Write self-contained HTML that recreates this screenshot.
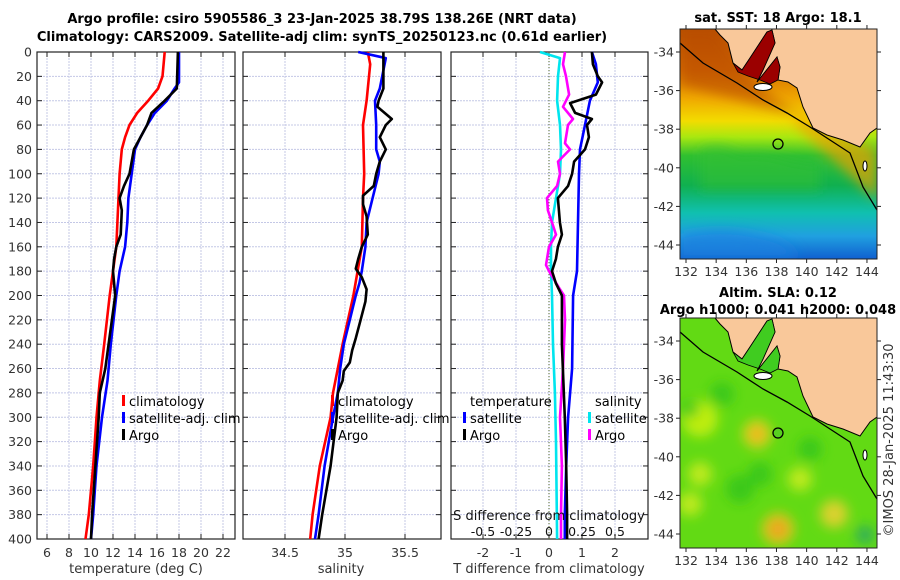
<!DOCTYPE html>
<html><head><meta charset="utf-8"><style>
body{margin:0;background:#fff;}
svg{display:block;font-family:"DejaVu Sans","Liberation Sans",sans-serif;}
</style></head><body>
<svg id="fig" width="900" height="580" viewBox="0 0 900 580" xmlns="http://www.w3.org/2000/svg">
<defs>
<linearGradient id="sstg" x1="0" y1="0" x2="0" y2="1">
<stop offset="0" stop-color="#b85000"/><stop offset="0.18" stop-color="#d87000"/>
<stop offset="0.3" stop-color="#f0a800"/><stop offset="0.4" stop-color="#f2dc00"/>
<stop offset="0.47" stop-color="#a8e810"/><stop offset="0.55" stop-color="#30c030"/>
<stop offset="0.68" stop-color="#10b050"/><stop offset="0.8" stop-color="#10c0b0"/>
<stop offset="0.9" stop-color="#20a0e0"/><stop offset="1" stop-color="#1060d0"/>
</linearGradient>
<filter id="blur" x="-20%" y="-20%" width="140%" height="140%"><feGaussianBlur stdDeviation="6"/></filter>
<clipPath id="m1c"><rect x="680" y="29" width="197" height="230"/></clipPath>
<clipPath id="m2c"><rect x="680" y="318" width="197" height="230"/></clipPath>
</defs>
<g font-weight="bold" font-size="13" text-anchor="middle">
<text x="322" y="23">Argo profile: csiro 5905586_3 23-Jan-2025 38.79S 138.26E (NRT data)</text>
<text x="322" y="41">Climatology: CARS2009. Satellite-adj clim: synTS_20250123.nc (0.61d earlier)</text>
</g>
<g id="plots"></g>
</svg>
<script>
// depth profile data
const dClim=[0,20,30,40,50,60,70,80,100,120,160,200,240,270,300,340,380,400];
const tClim=[16.7,16.5,16.1,15.2,14.2,13.5,13.1,12.8,12.6,12.5,12.3,11.7,11.2,10.8,10.5,10.2,9.8,9.5];
const dSat=[0,25,30,40,50,60,70,80,100,120,140,160,180,200,240,270,300,340,380,400];
const tSat=[18.0,18.0,17.6,16.9,15.8,15.1,14.5,14.0,13.7,13.4,13.3,13.1,12.6,12.3,11.8,11.5,11.0,10.5,10.2,10.0];
const dArgoT=[0,30,40,50,60,70,80,100,110,120,130,150,160,170,180,200,220,240,260,280,300,340,380,400];
const tArgo=[17.9,17.8,16.7,15.5,15.1,14.5,13.9,13.5,13.0,12.6,12.8,12.7,12.3,12.1,12.0,12.2,11.9,11.6,11.3,10.8,10.7,10.4,10.1,10.0];
const dSClim=[0,10,40,60,100,120,160,200,240,260,280,300,340,380,400];
const sClim=[35.19,35.21,35.18,35.15,35.16,35.15,35.14,35.07,34.98,34.94,34.9,34.88,34.79,34.73,34.71];
const dSSat=[0,5,10,30,40,60,80,90,100,120,140,160,180,190,200,220,240,260,280,300,340,380,400];
const sSat=[35.11,35.34,35.33,35.29,35.25,35.26,35.26,35.29,35.28,35.23,35.18,35.17,35.14,35.12,35.09,35.04,34.99,34.96,34.94,34.9,34.83,34.78,34.75];
const dSArgo=[0,20,30,40,45,50,55,60,70,80,90,100,110,118,125,135,150,160,170,178,185,195,205,220,235,245,255,262,270,280,300,340,380,400];
const sArgo=[35.32,35.32,35.32,35.28,35.27,35.33,35.39,35.34,35.29,35.34,35.29,35.26,35.24,35.15,35.15,35.18,35.19,35.14,35.11,35.09,35.14,35.18,35.17,35.13,35.09,35.06,35.04,34.99,34.98,34.94,34.93,34.88,34.81,34.78];
// differences from climatology
const dDTA=[0,10,20,25,35,42,50,55,60,70,80,90,100,110,120,140,150,160,170,180,190,200,240,300,340,380,400];
const dTArgo=[1.30,1.33,1.48,1.61,1.42,0.64,0.79,1.30,1.15,1.21,1.09,0.76,0.70,0.58,0.27,0.33,0.39,0.27,0.21,0.09,0.21,0.39,0.39,0.48,0.52,0.55,0.55];
const dDTS=[0,10,25,40,60,80,100,140,180,200,260,300,340,380,400];
const dTSat=[1.30,1.42,1.48,1.24,1.09,0.94,0.91,0.88,0.85,0.73,0.70,0.58,0.52,0.48,0.48];
const dDSS=[0,5,20,40,60,80,100,120,140,160,180,200,240,280,320,400];
const diffSSat=[-0.068,0.083,0.068,0.061,0.083,0.091,0.083,0.053,0.023,0.015,0.015,0.023,0.030,0.045,0.053,0.061];
const dDSA=[0,10,20,35,45,55,60,75,80,90,100,110,120,130,140,150,160,175,180,195,200,220,260,300,340,380,400];
const diffSArgo=[0.121,0.106,0.129,0.152,0.106,0.182,0.144,0.121,0.159,0.068,0.083,0.061,-0.015,-0.008,0.023,0.053,0,-0.023,0,0.083,0.114,0.121,0.106,0.083,0.098,0.091,0.091];
const depthTicks=[0,20,40,60,80,100,120,140,160,180,200,220,240,260,280,300,320,340,360,380,400];
const tTicks=[6,8,10,12,14,16,18,20,22];
const sTicks=[34.5,35,35.5];
const dtTicks=[-2,-1,0,1,2];
const dsTicks=[-0.5,-0.25,0,0.25,0.5];
const dsTickLabels=["-0.5","-0.25","0","0.25","0.5"];
const lonTicks=[132,134,136,138,140,142,144];
const latTicks=[-34,-36,-38,-40,-42,-44];

const NS="http://www.w3.org/2000/svg";
const root=document.getElementById('plots');
function mk(tag,at,parent){const e=document.createElementNS(NS,tag);for(const k in at)e.setAttribute(k,at[k]);(parent||root).appendChild(e);return e;}
function txt(x,y,s,at,parent){const e=mk('text',Object.assign({x:x,y:y},at||{}),parent);e.textContent=s;return e;}
const Y0=52,Y1=539;
const yD=d=>Y0+d*(Y1-Y0)/400;
const xT=t=>47+(t-6)*11;
const xS=s=>345+(s-35)*120;
const xDT=t=>549+t*33;
const xDS=s=>549+s*132;

function panel(name,x0,x1,vgrid,xfun){
  const g=mk('g',{});
  
  
  depthTicks.forEach(d=>{mk('line',{x1:x0,x2:x1,y1:yD(d),y2:yD(d),stroke:'#c4c8e6','stroke-width':1,'stroke-dasharray':'2,1'},g);
    mk('line',{x1:x0,x2:x0+5,y1:yD(d),y2:yD(d),stroke:'#222'},g);mk('line',{x1:x1-5,x2:x1,y1:yD(d),y2:yD(d),stroke:'#222'},g);});
  vgrid.forEach(v=>{const x=xfun(v);mk('line',{x1:x,x2:x,y1:Y0,y2:Y1,stroke:'#c4c8e6','stroke-width':1,'stroke-dasharray':'2,1'},g);
    mk('line',{x1:x,x2:x,y1:Y0,y2:Y0+5,stroke:'#222'},g);mk('line',{x1:x,x2:x,y1:Y1-5,y2:Y1,stroke:'#222'},g);});
  mk('rect',{x:x0,y:Y0,width:x1-x0,height:Y1-Y0,fill:'none',stroke:'#222','stroke-width':1.2},g);
  return g;
}
function drawLine(name,ds,vs,xf,color,g){
  const p=ds.map((d,i)=>xf(vs[i]).toFixed(1)+','+yD(d).toFixed(1)).join(' ');
  const e=mk('polyline',{points:p,fill:'none',stroke:color,'stroke-width':2.6,'stroke-linejoin':'round'},g);
  
  
}
function legendItem(name,x,y,color,label,g){
  const e=mk('g',{},g);
  
  
  mk('rect',{x:x,y:y-11,width:3,height:11,fill:color},e);
  txt(x+7,y,label,{'font-size':13},e);
}
const dl=mk('g',{'font-size':12.5,'text-anchor':'end',fill:'#333'});


depthTicks.forEach(d=>txt(32,yD(d)+4.5,String(d),{},dl));

const p1=panel('temperature-panel',37,235,tTicks,xT);
drawLine('temp-climatology',dClim,tClim,xT,'#ff0000',p1);
drawLine('temp-satellite-adj',dSat,tSat,xT,'#0000ff',p1);
drawLine('temp-argo',dArgoT,tArgo,xT,'#000',p1);
tTicks.forEach(t=>txt(xT(t),557,String(t),{'font-size':12.5,'text-anchor':'middle',fill:'#333'},p1));
txt(136,573,'temperature (deg C)',{'font-size':13,'text-anchor':'middle',fill:'#333'},p1);
legendItem('legend-climatology',122,406,'#ff0000','climatology',p1);
legendItem('legend-satellite-adj',122,423,'#0000ff','satellite-adj. clim',p1);
legendItem('legend-argo',122,440,'#000','Argo',p1);

const p2=panel('salinity-panel',243,441,sTicks,xS);
drawLine('sal-climatology',dSClim,sClim,xS,'#ff0000',p2);
drawLine('sal-satellite-adj',dSSat,sSat,xS,'#0000ff',p2);
drawLine('sal-argo',dSArgo,sArgo,xS,'#000',p2);
sTicks.forEach(t=>txt(xS(t),557,String(t),{'font-size':12.5,'text-anchor':'middle',fill:'#333'},p2));
txt(341,573,'salinity',{'font-size':13,'text-anchor':'middle',fill:'#333'},p2);
legendItem('legend2-climatology',331,406,'#ff0000','climatology',p2);
legendItem('legend2-satellite-adj',331,423,'#0000ff','satellite-adj. clim',p2);
legendItem('legend2-argo',331,440,'#000','Argo',p2);

const p3=panel('difference-panel',451,648,dtTicks,xDT);
mk('line',{x1:549,x2:549,y1:Y0,y2:Y1,stroke:'#556b2f','stroke-width':1,'stroke-dasharray':'1,2'},p3);
drawLine('dsal-satellite',dDSS,diffSSat,xDS,'#00e5ee',p3);
drawLine('dsal-argo',dDSA,diffSArgo,xDS,'#ff00ff',p3);
drawLine('dtemp-satellite',dDTS,dTSat,xDT,'#0000ff',p3);
drawLine('dtemp-argo',dDTA,dTArgo,xDT,'#000',p3);
dtTicks.forEach(t=>txt(xDT(t),557,String(t),{'font-size':12.5,'text-anchor':'middle',fill:'#333'},p3));
dsTicks.forEach((t,i)=>txt(xDS(t),536,dsTickLabels[i],{'font-size':12.5,'text-anchor':'middle',fill:'#111'},p3));
txt(549,520,'S difference from climatology',{'font-size':13,'text-anchor':'middle',fill:'#111'},p3);
txt(549,573,'T difference from climatology',{'font-size':13,'text-anchor':'middle',fill:'#333'},p3);
txt(470,406,'temperature',{'font-size':13},p3);
txt(595,406,'salinity',{'font-size':13},p3);
legendItem('legend3-t-satellite',463,423,'#0000ff','satellite',p3);
legendItem('legend3-t-argo',463,440,'#000','Argo',p3);
legendItem('legend3-s-satellite',588,423,'#00e5ee','satellite',p3);
legendItem('legend3-s-argo',588,440,'#ff00ff','Argo',p3);

const lonX=l=>686+(l-132)*15.08;
const land="715,29 720,35 728,43 733,63 742,70 750,58 767,32 772,30 775,43 763,70 757,82 777,57 780,67 778,80 788,82 797,88 803,107 813,128 827,135 843,140 860,147 870,133 877,128 877,29";
const gulf="733,63 742,70 750,58 767,32 772,30 775,43 763,70 757,82 777,57 780,67 778,80 770,84 760,80 748,76 738,72";
const shelf="680,43 703,63 737,83 763,100 787,113 810,127 830,140 850,153 863,187 877,210";
function drawMap(name,oy,bg,extra,circleFill,clip,gulfFill){
  const g=mk('g',{});
  
  
  const inner=mk('g',{'clip-path':'url(#'+clip+')'},g);
  const t=mk('g',{transform:'translate(0,'+oy+')'},inner);
  mk('rect',{x:680,y:29,width:197,height:230,fill:bg},t);
  extra(t);
  mk('polygon',{points:land,fill:'#f9c89a',stroke:'#000','stroke-width':1},t);
  mk('polygon',{points:gulf,fill:gulfFill,stroke:'#000','stroke-width':0.8},t);
  mk('ellipse',{cx:763,cy:87,rx:9,ry:3.5,fill:'#fff',stroke:'#000','stroke-width':1},t);
  mk('ellipse',{cx:865,cy:166,rx:2,ry:5,fill:'#fff',stroke:'#000','stroke-width':1},t);
  mk('polyline',{points:shelf,fill:'none',stroke:'#000','stroke-width':1.3},t);
  const c=mk('circle',{cx:778,cy:144,r:5,fill:circleFill,stroke:'#000','stroke-width':1.3},t);
  
  
  const yt=29+oy,yb=259+oy;
  mk('rect',{x:680,y:yt,width:197,height:230,fill:'none',stroke:'#222'},g);
  lonTicks.forEach(l=>{const x=lonX(l);mk('line',{x1:x,x2:x,y1:yb,y2:yb+4,stroke:'#222'},g);mk('line',{x1:x,x2:x,y1:yt-4,y2:yt,stroke:'#222'},g);
    txt(x,yb+17,String(l),{'font-size':12.5,'text-anchor':'middle',fill:'#333'},g);});
  latTicks.forEach(la=>{const y=52+oy+(-34-la)*19.3;mk('line',{x1:676,x2:680,y1:y,y2:y,stroke:'#222'},g);mk('line',{x1:877,x2:881,y1:y,y2:y,stroke:'#222'},g);
    txt(674,y+4.5,String(la),{'font-size':12.5,'text-anchor':'end',fill:'#333'},g);});
  return g;
}
const m1=drawMap('sst-map',0,'url(#sstg)',t=>{
  const b=mk('g',{filter:'url(#blur)'},t);
  mk('polygon',{points:"680,29 715,29 745,70 770,95 800,115 680,85",fill:'#b84800',opacity:0.6},b);
  mk('polygon',{points:"790,110 877,150 877,200 800,130",fill:'#f0a000',opacity:0.7},b);
  mk('path',{d:"M700,150 Q720,140 740,155 Q760,150 790,160 L820,165 L820,190 L700,190Z",fill:'#30c030',opacity:0.6},b);
  mk('path',{d:"M680,235 Q720,225 760,235 Q790,240 800,259 L680,259Z",fill:'#2080e0',opacity:0.7},b);
},'none','m1c','#9b0000');
txt(778,22,'sat. SST: 18 Argo: 18.1',{'font-size':13,'font-weight':'bold','text-anchor':'middle'},m1);

const m2=drawMap('sla-map',289,'#62da14',t=>{
  const b=mk('g',{filter:'url(#blur)'},t);
  const blobs=[[700,130,18,'#c8f010'],[757,145,14,'#f0d020'],[757,145,6,'#f0a020'],[778,240,16,'#f0c020'],[778,240,7,'#f09020'],[834,225,14,'#e8d030'],[700,185,12,'#c8ec20'],[800,190,12,'#c8ec20'],[690,215,12,'#c8ec20']];
  blobs.forEach(c=>mk('circle',{cx:c[0],cy:c[1],r:c[2],fill:c[3],opacity:0.9},b));
  [[722,105,12],[690,120,9],[740,200,14],[810,160,12],[760,185,12]].forEach(c=>mk('circle',{cx:c[0],cy:c[1],r:c[2],fill:'#28c020',opacity:0.7},b));
  mk('circle',{cx:865,cy:246,r:9,fill:'#20a070',opacity:0.8},b);
},'#58d020','m2c','#40cc20');
txt(778,297,'Altim. SLA: 0.12',{'font-size':13,'font-weight':'bold','text-anchor':'middle'},m2);
txt(778,314,'Argo h1000: 0.041 h2000: 0.048',{'font-size':13,'font-weight':'bold','text-anchor':'middle'},m2);
const cr=txt(0,0,'©IMOS 28-Jan-2025 11:43:30',{'font-size':13,fill:'#333','text-anchor':'middle',transform:'translate(893,440) rotate(-90)'});


</script>
</body></html>
